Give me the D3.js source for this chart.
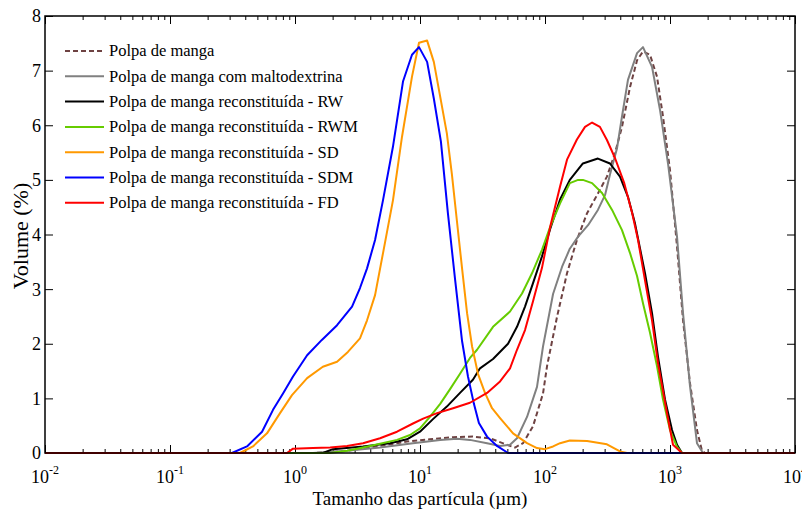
<!DOCTYPE html>
<html>
<head>
<meta charset="utf-8">
<script src="https://cdn.jsdelivr.net/npm/d3@7"></script>
<style>
  body { margin: 0; background: #fff; }
  svg { display: block; }
  text { font-family: "Liberation Serif", "Times New Roman", serif; fill: #000; }
</style>
</head>
<body>
<svg id="chart" width="802" height="512"></svg>
<script>
// Particle size distributions (size in µm, volume in %)
const sizesManga = [0.01, 1.39, 2.61, 4.79, 7.87, 12.0, 18.4, 26.5, 36.3, 49.7, 57.5, 66.7, 80.2, 96.4, 104, 125, 150, 180, 217, 265, 313, 363, 413, 479, 545, 608, 692, 787, 879, 1000, 1138, 1271, 1445, 1644, 1803, 1905, 10000];
const volManga = [0, 0, 0.04, 0.13, 0.21, 0.25, 0.29, 0.30, 0.27, 0.15, 0.10, 0.18, 0.49, 1.09, 1.60, 2.50, 3.29, 3.90, 4.39, 4.75, 5.06, 5.49, 5.97, 6.70, 7.19, 7.35, 7.29, 6.89, 6.16, 5.18, 3.78, 2.43, 1.28, 0.42, 0.04, 0, 0];

const sizesMalto = [0.01, 1.39, 2.61, 4.79, 8.79, 14.5, 19.8, 25.1, 34.4, 43.7, 52.5, 59.7, 71.8, 86.3, 96.4, 116, 137, 158, 184, 221, 265, 302, 331, 377, 413, 461, 545, 608, 718, 832, 964, 1138, 1271, 1445, 1644, 1837, 10000];
const volMalto = [0, 0, 0.04, 0.10, 0.18, 0.24, 0.26, 0.24, 0.18, 0.13, 0.15, 0.27, 0.66, 1.21, 1.95, 2.91, 3.41, 3.74, 3.96, 4.17, 4.45, 4.72, 5.10, 5.58, 6.16, 6.83, 7.32, 7.43, 7.07, 6.28, 5.30, 3.96, 2.56, 1.23, 0.18, 0, 0];

const sizesRW = [0.01, 1.67, 2.01, 3.50, 5.75, 7.87, 10.0, 12.7, 16.4, 20.9, 26.5, 30.2, 38.4, 50.6, 59.7, 69.2, 80.2, 94.6, 110, 132, 158, 201, 265, 331, 398, 461, 525, 631, 718, 802, 912, 1038, 1138, 1247, 10000];
const volRW = [0, 0, 0.07, 0.12, 0.18, 0.25, 0.39, 0.62, 0.85, 1.10, 1.34, 1.55, 1.72, 2.00, 2.31, 2.68, 3.11, 3.60, 4.10, 4.64, 5.00, 5.30, 5.39, 5.30, 5.06, 4.69, 4.20, 3.29, 2.56, 1.76, 0.98, 0.42, 0.15, 0, 0];

const sizesRWM = [0.01, 1.91, 2.61, 3.50, 4.79, 6.55, 8.32, 10.0, 12.0, 14.5, 17.4, 20.9, 25.1, 28.6, 38.4, 52.5, 65.5, 78.7, 94.6, 110, 132, 158, 184, 201, 238, 286, 344, 413, 479, 545, 608, 692, 787, 879, 1000, 1138, 1247, 10000];
const volRWM = [0, 0, 0.04, 0.10, 0.17, 0.24, 0.33, 0.45, 0.66, 0.90, 1.17, 1.45, 1.74, 1.89, 2.31, 2.59, 2.92, 3.29, 3.72, 4.14, 4.57, 4.94, 5.00, 5.00, 4.94, 4.76, 4.45, 4.08, 3.66, 3.24, 2.74, 2.20, 1.59, 0.98, 0.42, 0.11, 0, 0];

const sizesSD = [0.01, 0.363, 0.461, 0.597, 0.759, 0.946, 1.25, 1.67, 2.17, 2.65, 3.31, 3.77, 4.37, 5.06, 6.08, 7.18, 8.63, 9.82, 11.4, 12.9, 14.7, 16.4, 18.0, 19.8, 21.7, 23.8, 26.1, 29.1, 33.1, 37.7, 43.7, 55.5, 71.8, 86.3, 100, 116, 132, 158, 217, 313, 398, 453, 10000];
const volSD = [0, 0, 0.12, 0.36, 0.73, 1.06, 1.37, 1.58, 1.67, 1.85, 2.10, 2.43, 2.89, 3.66, 4.63, 5.79, 6.89, 7.51, 7.55, 7.16, 6.45, 5.85, 5.10, 4.22, 3.38, 2.56, 1.95, 1.45, 1.10, 0.82, 0.64, 0.36, 0.18, 0.09, 0.07, 0.12, 0.18, 0.23, 0.22, 0.16, 0.03, 0, 0];

const sizesSDM = [0.01, 0.313, 0.413, 0.545, 0.667, 0.802, 0.964, 1.25, 1.64, 2.17, 2.86, 3.31, 3.77, 4.37, 5.06, 6.08, 7.31, 8.63, 9.82, 11.4, 12.9, 14.7, 16.7, 19.1, 21.7, 24.2, 27.0, 29.6, 34.4, 41.3, 50.6, 10000];
const volSDM = [0, 0, 0.12, 0.39, 0.79, 1.09, 1.40, 1.79, 2.07, 2.34, 2.68, 3.02, 3.38, 3.90, 4.63, 5.61, 6.80, 7.29, 7.43, 7.16, 6.49, 5.70, 4.40, 3.17, 2.05, 1.40, 0.90, 0.55, 0.30, 0.13, 0, 0];

const sizesFD = [0.01, 0.863, 0.964, 1.39, 1.91, 2.61, 3.50, 4.79, 6.55, 8.79, 10.6, 13.7, 18.4, 25.1, 34.4, 43.7, 52.5, 59.7, 69.2, 80.2, 94.6, 110, 132, 150, 180, 209, 238, 275, 313, 363, 429, 497, 555, 631, 718, 802, 946, 1057, 1247, 10000];
const volFD = [0, 0, 0.08, 0.09, 0.10, 0.13, 0.18, 0.27, 0.39, 0.54, 0.63, 0.73, 0.82, 0.92, 1.10, 1.31, 1.55, 1.89, 2.25, 2.78, 3.39, 4.14, 4.88, 5.37, 5.74, 5.97, 6.05, 5.97, 5.73, 5.40, 4.95, 4.40, 3.90, 3.16, 2.43, 1.64, 0.73, 0.15, 0, 0];

const seriesNames = [
  "Polpa de manga",
  "Polpa de manga com maltodextrina",
  "Polpa de manga reconstituída - RW",
  "Polpa de manga reconstituída - RWM",
  "Polpa de manga reconstituída - SD",
  "Polpa de manga reconstituída - SDM",
  "Polpa de manga reconstituída - FD"
];
const seriesColors = ["#6e4242", "#808080", "#000000", "#66cc00", "#ff9900", "#0000ff", "#ff0000"];
const seriesDash = ["5,3", null, null, null, null, null, null];
const seriesSizes = [sizesManga, sizesMalto, sizesRW, sizesRWM, sizesSD, sizesSDM, sizesFD];
const seriesVolumes = [volManga, volMalto, volRW, volRWM, volSD, volSDM, volFD];

const xTickExponents = [-2, -1, 0, 1, 2, 3, 4];
const yTicks = [0, 1, 2, 3, 4, 5, 6, 7, 8];
const xTitle = "Tamanho das partícula (µm)";
const yTitle = "Volume (%)";

// Plot frame in pixels
const plotLeft = 45, plotRight = 795, plotTop = 16, plotBottom = 453;
const svg = d3.select("#chart");
svg.append("rect").attr("width", 802).attr("height", 512).attr("fill", "#fff");

const x = d3.scaleLog().domain([0.01, 10000]).range([plotLeft, plotRight]);
const y = d3.scaleLinear().domain([0, 8]).range([plotBottom, plotTop]);

const majorX = xTickExponents.map(e => Math.pow(10, e));
const minorX = [];
xTickExponents.slice(0, -1).forEach(e => {
  for (let k = 2; k <= 9; k++) minorX.push(k * Math.pow(10, e));
});

function styleAxis(g) {
  g.select(".domain").remove();
  g.selectAll(".tick line").attr("stroke", "#000").attr("stroke-width", 1);
}

// Bottom axis (ticks pointing inward)
svg.append("g").attr("transform", `translate(0,${plotBottom})`)
  .call(d3.axisBottom(x).tickValues(minorX).tickSizeInner(-4).tickSizeOuter(0).tickFormat(""))
  .call(styleAxis);
svg.append("g").attr("transform", `translate(0,${plotBottom})`)
  .call(d3.axisBottom(x).tickValues(majorX).tickSizeInner(-8).tickSizeOuter(0).tickFormat(""))
  .call(styleAxis);

// Top axis
svg.append("g").attr("transform", `translate(0,${plotTop})`)
  .call(d3.axisTop(x).tickValues(minorX).tickSizeInner(-4).tickSizeOuter(0).tickFormat(""))
  .call(styleAxis);
svg.append("g").attr("transform", `translate(0,${plotTop})`)
  .call(d3.axisTop(x).tickValues(majorX).tickSizeInner(-8).tickSizeOuter(0).tickFormat(""))
  .call(styleAxis);

// Left axis with labels
const leftAxis = svg.append("g").attr("transform", `translate(${plotLeft},0)`)
  .call(d3.axisLeft(y).tickValues(yTicks).tickSizeInner(-8).tickSizeOuter(0).tickPadding(4).tickFormat(d3.format("d")))
  .call(styleAxis);
leftAxis.attr("font-family", null).attr("font-size", null);
leftAxis.selectAll(".tick text")
  .attr("font-size", 18).attr("fill", "#000").attr("dy", "0.33em");

// Right axis
svg.append("g").attr("transform", `translate(${plotRight},0)`)
  .call(d3.axisRight(y).tickValues(yTicks).tickSizeInner(-8).tickSizeOuter(0).tickFormat(""))
  .call(styleAxis);

// Decade labels 10^n
const xLabels = svg.append("g");
xTickExponents.forEach(e => {
  const t = xLabels.append("text")
    .attr("x", x(Math.pow(10, e)))
    .attr("y", 483)
    .attr("text-anchor", "middle")
    .attr("font-size", 18);
  t.append("tspan").text("10");
  t.append("tspan").attr("dy", -9).attr("font-size", 12).text(String(e));
});

// Curves
const line = d3.line().x(d => x(d[0])).y(d => y(d[1]));
const curves = svg.append("g");
seriesNames.forEach((name, i) => {
  const pts = seriesSizes[i].map((s, j) => [s, seriesVolumes[i][j]]);
  const p = curves.append("path")
    .attr("d", line(pts))
    .attr("fill", "none")
    .attr("stroke", seriesColors[i])
    .attr("stroke-width", 2)
    .attr("stroke-linejoin", "round");
  if (seriesDash[i]) p.attr("stroke-dasharray", seriesDash[i]);
});

// Frame
svg.append("rect")
  .attr("x", plotLeft).attr("y", plotTop)
  .attr("width", plotRight - plotLeft).attr("height", plotBottom - plotTop)
  .attr("fill", "none").attr("stroke", "#000").attr("stroke-width", 1.5);

// Legend
const legend = svg.append("g");
seriesNames.forEach((name, i) => {
  const ly = 51 + i * 25.3;
  const l = legend.append("line")
    .attr("x1", 65).attr("x2", 104).attr("y1", ly).attr("y2", ly)
    .attr("stroke", seriesColors[i]).attr("stroke-width", 2);
  if (seriesDash[i]) l.attr("stroke-dasharray", seriesDash[i]);
  legend.append("text")
    .attr("x", 109).attr("y", ly).attr("dy", "0.33em")
    .attr("font-size", 16.5)
    .text(name);
});

// Axis titles
svg.append("text")
  .attr("x", 420).attr("y", 505)
  .attr("text-anchor", "middle").attr("font-size", 19)
  .text(xTitle);
svg.append("text")
  .attr("transform", "translate(28,236) rotate(-90)")
  .attr("text-anchor", "middle").attr("font-size", 22)
  .text(yTitle);
</script>
</body>
</html>
